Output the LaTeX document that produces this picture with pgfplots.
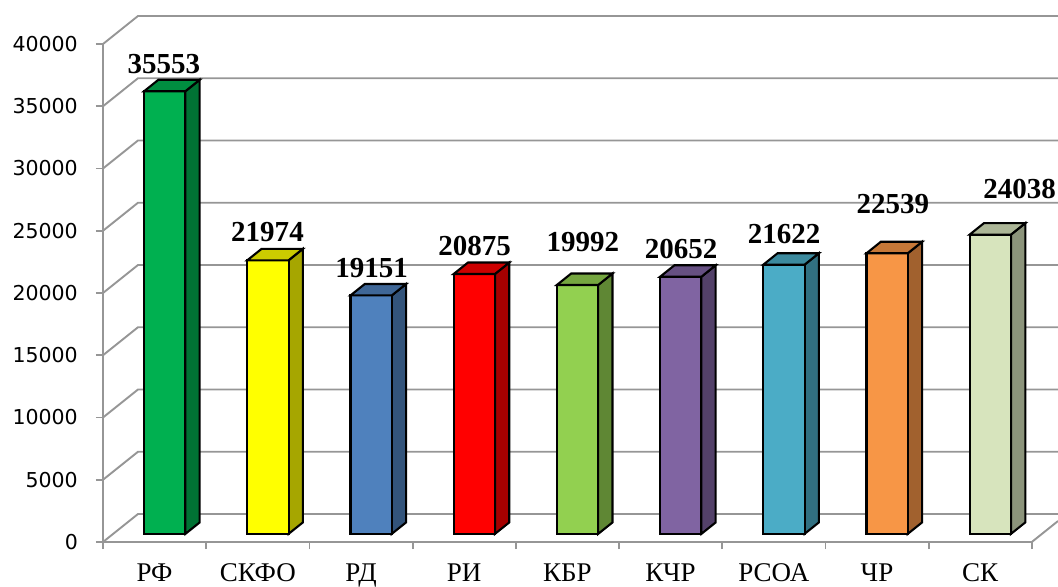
\documentclass[border=0pt]{standalone}
\usepackage{pgfplots}
\pgfplotsset{compat=1.18}
\usepackage{pgfplotstable}
\usepackage{fontspec}
\setmainfont{Liberation Serif}
\newfontfamily\tickfont{DejaVu Sans}

\definecolor{c0}{HTML}{00B050}
\definecolor{c1}{HTML}{FFFF00}
\definecolor{c2}{HTML}{4F81BD}
\definecolor{c3}{HTML}{FF0000}
\definecolor{c4}{HTML}{92D050}
\definecolor{c5}{HTML}{8064A2}
\definecolor{c6}{HTML}{4BACC6}
\definecolor{c7}{HTML}{F79646}
\definecolor{c8}{HTML}{D7E4BD}
\definecolor{gridc}{RGB}{150,150,150}

% k = category index, v = value, lx/ly = position of the value label
\pgfplotstableread{
k v lx ly
0 35553 0.591 37590
1 21974 1.594 24096
2 19151 2.602 21205
3 20875 3.600 22972
4 19992 4.651 23293
5 20652 5.602 22731
6 21622 6.599 23936
7 22539 7.655 26345
8 24038 8.882 27550
}\data

% face templates: a = x offset within category, b = y offset (depth), c = multiplier of value
\pgfplotstableread{
a b c
0.398 652 0
0.798 652 0
0.798 652 1
0.398 652 1
}\frontf
\pgfplotstableread{
a b c
0.798 652 0
0.937 1574 0
0.937 1574 1
0.798 652 1
}\sidef
\pgfplotstableread{
a b c
0.398 652 1
0.798 652 1
0.937 1574 1
0.537 1574 1
}\topf

\pgfplotstableread{
x y
0 0
0.339 2249
9.254 2249
}\gridl

\begin{document}
\begin{tikzpicture}
\begin{axis}[
 scale only axis, width=955pt, height=542pt,
 xmin=0, xmax=9.254, ymin=0, ymax=43534,
 clip=false,
 axis line style={draw=none},
 tick pos=left, tick align=outside, major tick length=7pt,
 tick style={gridc, line width=1.8pt},
 xtick={0,1,2,3,4,5,6,7,8,9}, x tick label as interval,
 xticklabels={РФ,СКФО,РД,РИ,КБР,КЧР,РСОА,ЧР,СК},
 xticklabel style={font=\fontsize{27}{27}\selectfont, anchor=base, inner sep=0pt, yshift=-32pt},
 ytick={0,5000,10000,15000,20000,25000,30000,35000,40000},
 yticklabel style={font=\tickfont\fontsize{20.5}{20.5}\selectfont, anchor=east, inner sep=0pt, xshift=-18pt},
 /pgf/number format/assume math mode=true,
 /pgf/number format/1000 sep={},
 scaled y ticks=false,
]
\pgfplotsinvokeforeach{0,5000,10000,15000,20000,25000,30000,35000,40000}{
 \addplot[gridc, line width=1.9pt] table[x=x, y expr=\thisrow{y}+#1] {\gridl};
}
\addplot[gridc, line width=1.9pt] coordinates {(0,0) (0,40000)};
\addplot[gridc, line width=1.9pt] coordinates {(0,0) (9,0) (9.254,1685)};
\pgfplotsinvokeforeach{0,1,2,3,4,5,6,7,8}{
 \pgfplotstablegetelem{#1}{v}\of\data
 \let\val\pgfplotsretval
 \addplot[fill=c#1!65!black, draw=black, line width=2.1pt] table[x expr=\thisrow{a}+#1, y expr=\thisrow{b}+\thisrow{c}*\val] {\sidef} -- cycle;
 \addplot[fill=c#1, draw=black, line width=2.1pt] table[x expr=\thisrow{a}+#1, y expr=\thisrow{b}+\thisrow{c}*\val] {\frontf} -- cycle;
 \addplot[fill=c#1!80!black, draw=black, line width=2.1pt] table[x expr=\thisrow{a}+#1, y expr=\thisrow{b}+\thisrow{c}*\val] {\topf} -- cycle;
}
\addplot[draw=none, nodes near coords, point meta=explicit,
 nodes near coords style={font=\bfseries\fontsize{29}{29}\selectfont, anchor=base, inner sep=0pt, text=black}]
 table[x=lx, y=ly, meta=v] {\data};
\end{axis}
\pgfresetboundingbox
\path[use as bounding box] ([xshift=-103pt,yshift=-44pt]current axis.south west) rectangle (current axis.north east);
\end{tikzpicture}
\end{document}
